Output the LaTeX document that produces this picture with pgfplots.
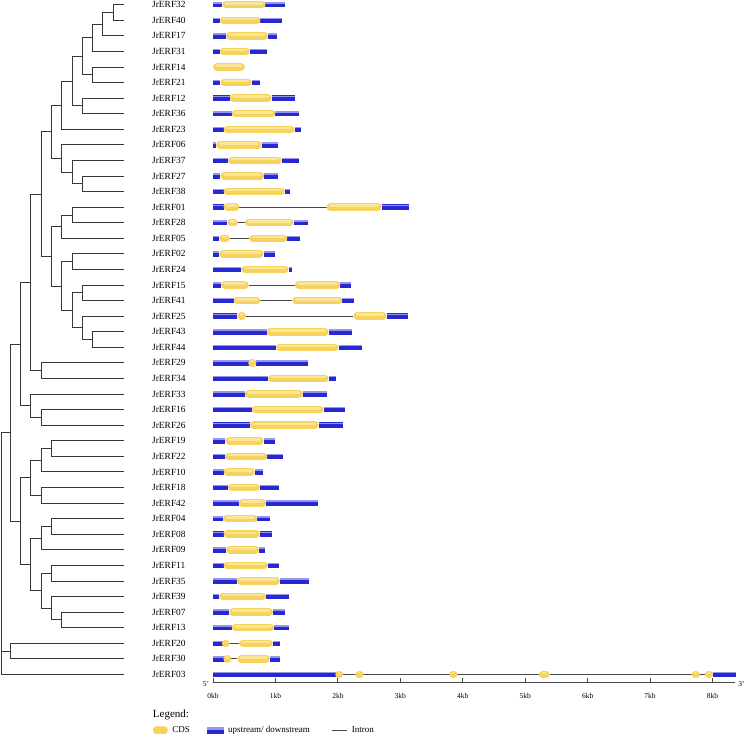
\documentclass[border=0pt]{standalone}
\usepackage{pgfplots}
\pgfplotsset{compat=1.18}
\usepackage{pgfplotstable}
\usepackage{fontspec}
\setmainfont{Liberation Serif}

\definecolor{ublue}{RGB}{40,40,210}
\definecolor{ubluelt}{RGB}{150,150,240}
\definecolor{cdsy}{RGB}{246,211,92}
\definecolor{cdsylt}{RGB}{251,230,150}
\definecolor{intr}{RGB}{70,70,70}
\definecolor{treec}{RGB}{55,55,55}

\pgfplotstableread{
x y
124 0
113.3 0
113.3 1
124 1
nan nan
113.3 0.5
102.7 0.5
102.7 2
124 2
nan nan
102.7 1.25
92.3 1.25
92.3 3
124 3
nan nan
124 4
92.3 4
92.3 5
124 5
nan nan
92.3 2.125
82.3 2.125
82.3 4.5
92.3 4.5
nan nan
124 6
82.3 6
82.3 7
124 7
nan nan
82.3 3.3125
72 3.3125
72 6.5
82.3 6.5
nan nan
72 4.906
61.7 4.906
61.7 8
124 8
nan nan
124 11
82.3 11
82.3 12
124 12
nan nan
124 10
72 10
72 11.5
82.3 11.5
nan nan
124 9
61.7 9
61.7 10.75
72 10.75
nan nan
61.7 6.453
51.3 6.453
51.3 9.875
61.7 9.875
nan nan
124 13
72 13
72 14
124 14
nan nan
72 13.5
61.7 13.5
61.7 15
124 15
nan nan
124 16
72 16
72 17
124 17
nan nan
124 18
82.3 18
82.3 19
124 19
nan nan
124 21
92.3 21
92.3 22
124 22
nan nan
124 20
82.3 20
82.3 21.5
92.3 21.5
nan nan
82.3 18.5
72 18.5
72 20.75
82.3 20.75
nan nan
72 16.5
61.7 16.5
61.7 19.625
72 19.625
nan nan
61.7 14.25
51.3 14.25
51.3 18.0625
61.7 18.0625
nan nan
51.3 8.164
41 8.164
41 16.156
51.3 16.156
nan nan
124 23
41 23
41 24
124 24
nan nan
41 12.16
30.7 12.16
30.7 23.5
41 23.5
nan nan
124 26
41 26
41 27
124 27
nan nan
124 25
30.7 25
30.7 26.5
41 26.5
nan nan
30.7 17.83
20.7 17.83
20.7 25.75
30.7 25.75
nan nan
124 28
51.3 28
51.3 29
124 29
nan nan
51.3 28.5
41 28.5
41 30
124 30
nan nan
124 31
41 31
41 32
124 32
nan nan
41 29.25
30.7 29.25
30.7 31.5
41 31.5
nan nan
124 33
51.3 33
51.3 34
124 34
nan nan
51.3 33.5
41 33.5
41 35
124 35
nan nan
124 36
51.3 36
51.3 37
124 37
nan nan
124 39
61.7 39
61.7 40
124 40
nan nan
124 38
51.3 38
51.3 39.5
61.7 39.5
nan nan
51.3 36.5
41 36.5
41 38.75
51.3 38.75
nan nan
41 34.25
30.7 34.25
30.7 37.625
41 37.625
nan nan
30.7 30.375
20.7 30.375
20.7 35.94
30.7 35.94
nan nan
20.7 21.79
10.7 21.79
10.7 33.16
20.7 33.16
nan nan
124 41
10.7 41
10.7 42
124 42
nan nan
10.7 27.47
1 27.47
1 43
124 43
nan nan
1 41.5
10.7 41.5
}\treetab

\pgfplotstableread{
row x1 x2
0 0 0.15
0 0.84 1.16
1 0 0.11
1 0.76 1.10
2 0 0.21
2 0.88 1.03
3 0 0.11
3 0.59 0.86
5 0 0.12
5 0.62 0.75
6 0 0.27
6 0.94 1.31
7 0 0.30
7 1.00 1.38
8 0 0.17
8 1.31 1.41
9 0 0.05
9 0.78 1.04
10 0 0.24
10 1.10 1.38
11 0 0.12
11 0.82 1.04
12 0 0.17
12 1.15 1.24
13 0 0.17
13 2.70 3.14
14 0 0.23
14 1.29 1.52
15 0 0.10
15 1.19 1.40
16 0 0.10
16 0.81 1.00
17 0 0.45
17 1.21 1.26
18 0 0.13
18 2.04 2.21
19 0 0.33
19 2.07 2.26
20 0 0.39
20 2.78 3.12
21 0 0.86
21 1.85 2.22
22 0 1.01
22 2.01 2.38
23 0 0.57
23 0.69 1.52
24 0 0.88
24 1.85 1.97
25 0 0.51
25 1.44 1.83
26 0 0.62
26 1.77 2.12
27 0 0.59
27 1.69 2.08
28 0 0.20
28 0.81 1.00
29 0 0.19
29 0.87 1.12
30 0 0.17
30 0.67 0.80
31 0 0.24
31 0.75 1.05
32 0 0.41
32 0.85 1.68
33 0 0.16
33 0.71 0.91
34 0 0.17
34 0.75 0.94
35 0 0.21
35 0.74 0.83
36 0 0.17
36 0.88 1.05
37 0 0.38
37 1.07 1.54
38 0 0.10
38 0.85 1.22
39 0 0.26
39 0.96 1.16
40 0 0.30
40 0.98 1.21
41 0 0.17
41 0.96 1.07
42 0 0.19
42 0.91 1.07
43 0 2.00
43 8.01 8.38
}\utrtab

\pgfplotstableread{
row x1 x2
0 0.15 0.84
1 0.11 0.76
2 0.21 0.88
3 0.11 0.59
4 0 0.51
5 0.12 0.62
6 0.27 0.94
7 0.30 1.00
8 0.17 1.31
9 0.05 0.78
10 0.24 1.10
11 0.12 0.82
12 0.17 1.15
13 0.17 0.42
13 1.82 2.70
14 0.23 0.40
14 0.51 1.29
15 0.10 0.27
15 0.58 1.19
16 0.10 0.81
17 0.45 1.21
18 0.13 0.57
18 1.31 2.04
19 0.33 0.76
19 1.27 2.07
20 0.39 0.53
20 2.25 2.78
21 0.86 1.85
22 1.01 2.01
23 0.57 0.69
24 0.88 1.85
25 0.51 1.44
26 0.62 1.77
27 0.59 1.69
28 0.20 0.81
29 0.19 0.87
30 0.17 0.67
31 0.24 0.75
32 0.41 0.85
33 0.16 0.71
34 0.17 0.75
35 0.21 0.74
36 0.17 0.88
37 0.38 1.07
38 0.10 0.85
39 0.26 0.96
40 0.30 0.98
41 0.17 0.24
41 0.42 0.96
42 0.19 0.27
42 0.39 0.91
43 2.00 2.04
43 2.29 2.40
43 3.81 3.89
43 5.22 5.39
43 7.68 7.78
43 7.88 8.01
}\cdstab

\pgfplotstableread{
row x1 x2
13 0.42 1.82
14 0.40 0.51
15 0.27 0.58
18 0.57 1.31
19 0.76 1.27
20 0.53 2.25
41 0.24 0.42
42 0.27 0.39
43 2.04 2.29
43 2.40 3.81
43 3.89 5.22
43 5.39 7.68
43 7.78 7.88
}\intrtab

\begin{document}
\begin{tikzpicture}
\path[use as bounding box] (0pt,0pt) rectangle (745pt,734pt);

% ---------------- tree ----------------
\begin{axis}[
  at={(0pt,729.3pt)}, anchor=north west, scale only axis,
  width=124pt, height=669.7pt,
  xmin=0, xmax=124, ymin=0, ymax=43, y dir=reverse, clip=false,
  axis x line=none, axis y line*=right, y axis line style={draw=none},
  ytick={0,...,43},
  yticklabels={JrERF32,JrERF40,JrERF17,JrERF31,JrERF14,JrERF21,JrERF12,JrERF36,JrERF23,JrERF06,JrERF37,JrERF27,JrERF38,JrERF01,JrERF28,JrERF05,JrERF02,JrERF24,JrERF15,JrERF41,JrERF25,JrERF43,JrERF44,JrERF29,JrERF34,JrERF33,JrERF16,JrERF26,JrERF19,JrERF22,JrERF10,JrERF18,JrERF42,JrERF04,JrERF08,JrERF09,JrERF11,JrERF35,JrERF39,JrERF07,JrERF13,JrERF20,JrERF30,JrERF03},
  major tick length=0pt,
  yticklabel style={anchor=west, inner sep=0pt, xshift=28pt, font=\fontsize{9.4}{11}\selectfont},
]
\addplot[treec, line width=0.9pt, unbounded coords=jump, mark=none] table {\treetab};
\end{axis}

% ---------------- gene structures ----------------
\begin{axis}[
  at={(213pt,729.3pt)}, anchor=north west, scale only axis,
  width=522pt, height=677.5pt,
  xmin=0, xmax=8.36, ymin=0, ymax=43.5, y dir=reverse, clip=false,
  axis y line=none, axis x line*=bottom,
  x axis line style={intr, line width=0.8pt, -},
  xtick={0,...,8},
  xticklabels={0kb,1kb,2kb,3kb,4kb,5kb,6kb,7kb,8kb},
  tick align=inside, major tick length=4pt,
  tick style={intr, line width=0.8pt},
  xticklabel style={font=\fontsize{7.5}{9}\selectfont, yshift=-8pt},
  legend columns=3,
  legend style={at={(-0.1151,-0.0708)}, anchor=west, draw=none, fill=none,
    inner sep=0pt, row sep=0pt,
    nodes={inner sep=2.5pt, font=\fontsize{9}{11}\selectfont},
    /tikz/column 1/.style={column sep=2.3pt},
    /tikz/column 2/.style={column sep=15.1pt},
    /tikz/column 3/.style={column sep=2.3pt},
    /tikz/column 4/.style={column sep=18.7pt},
    /tikz/column 5/.style={column sep=2.3pt}},
]
% introns
\addplot[forget plot, no markers, intr,
  quiver={u={\thisrow{x2}-\thisrow{x1}}, v=0,
    every arrow/.append style={intr, line width=0.9pt}}]
  table[x=x1, y=row] {\intrtab};
% upstream / downstream
\addplot[forget plot, no markers, ublue,
  quiver={u={\thisrow{x2}-\thisrow{x1}}, v=0,
    every arrow/.append style={ublue, line width=5.5pt, line cap=butt}}]
  table[x=x1, y=row] {\utrtab};
\addplot[forget plot, no markers, ubluelt,
  quiver={u={\thisrow{x2}-\thisrow{x1}}, v=0,
    every arrow/.append style={ubluelt, line width=1.5pt, line cap=butt, yshift=1.9pt}}]
  table[x=x1, y=row] {\utrtab};
% CDS
\addplot[forget plot, no markers, cdsy,
  quiver={u={\thisrow{x2}-\thisrow{x1}-2*min(0.06,0.45*(\thisrow{x2}-\thisrow{x1}))}, v=0,
    every arrow/.append style={cdsy, line width=7.5pt, line cap=round}}]
  table[x expr={\thisrow{x1}+min(0.06,0.45*(\thisrow{x2}-\thisrow{x1}))}, y=row] {\cdstab};
\addplot[forget plot, no markers, cdsylt,
  quiver={u={\thisrow{x2}-\thisrow{x1}-2*min(0.06,0.45*(\thisrow{x2}-\thisrow{x1}))}, v=0,
    every arrow/.append style={cdsylt, line width=2.6pt, line cap=round, yshift=1.4pt}}]
  table[x expr={\thisrow{x1}+min(0.06,0.45*(\thisrow{x2}-\thisrow{x1}))}, y=row] {\cdstab};

\addlegendimage{legend image code/.code={\fill[cdsy, rounded corners=2.5pt] (0pt,-3.5pt) rectangle (14pt,3.5pt);}}
\addlegendentry{CDS}
\addlegendimage{legend image code/.code={\fill[ublue] (0pt,-2.6pt) rectangle (15.4pt,2.6pt); \fill[ubluelt] (0pt,1.2pt) rectangle (15.4pt,2.6pt);}}
\addlegendentry{upstream/ downstream}
\addlegendimage{legend image code/.code={\draw[intr, line width=1.2pt] (0pt,0pt) -- (15pt,0pt);}}
\addlegendentry{Intron}
\end{axis}

\node[anchor=west, inner sep=0pt, font=\fontsize{11}{13}\selectfont] at (152.7pt,19.5pt) {Legend:};
\node[inner sep=0pt, font=\fontsize{7.5}{9}\selectfont] at (206pt,50pt) {5'};
\node[inner sep=0pt, font=\fontsize{7.5}{9}\selectfont] at (741.5pt,50pt) {3'};
\end{tikzpicture}
\end{document}
